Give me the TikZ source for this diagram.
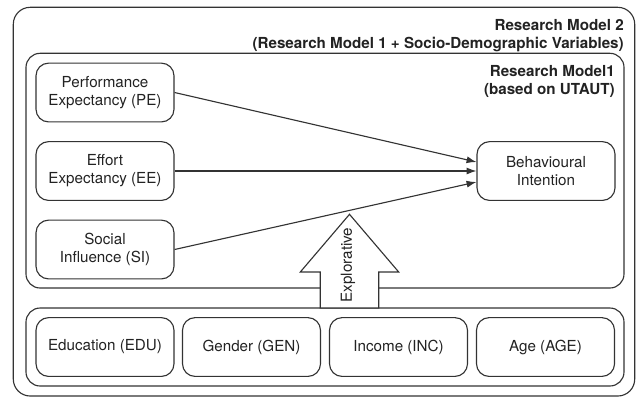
\documentclass[tikz,border=0pt]{standalone}
\usepackage{fontspec}
\setmainfont{TeX Gyre Heros}
\usetikzlibrary{calc,arrows.meta}
\definecolor{lineDark}{RGB}{51,51,51}
\definecolor{textDark}{RGB}{34,34,34}
\tikzset{
  varBox/.style={rounded corners=9pt,draw=lineDark,line width=0.8pt,minimum width=3.45cm,minimum height=1.47cm,align=center,text=textDark,font=\fontsize{10.8}{12.8}\selectfont},
  frameBox/.style={rounded corners=10pt,draw=lineDark,line width=0.8pt},
  titleText/.style={align=right,anchor=north east,inner sep=0pt,text=textDark,font=\bfseries\fontsize{10.8}{12.8}\selectfont},
  linkArrow/.style={draw=lineDark,line width=0.8pt,-{Latex[length=7pt,width=5pt]}}
}

\begin{document}
\begin{tikzpicture}[x=0.025cm,y=-0.025cm]
\useasboundingbox (0,0) rectangle (636,397);
\draw[frameBox,rounded corners=12pt] (13.3,7.3) rectangle (634.7,396);
\draw[frameBox] (26,53.3) rectangle (624,288);
\draw[frameBox] (26,308) rectangle (624,386);
\node[titleText] (titleTwo) at (624,19) {Research Model 2\\(Research Model 1 + Socio-Demographic Variables)};
\node[titleText] (titleOne) at (615,65.5) {Research Model1\\(based on UTAUT)};

\node[varBox] (pe) at (105,92.5) {Performance\\Expectancy (PE)};
\node[varBox] (ee) at (105,171) {Effort\\Expectancy (EE)};
\node[varBox] (si) at (105,249.5) {Social\\Influence (SI)};
\node[varBox] (bi) at (546,171) {Behavioural\\Intention};

\node[varBox] (edu) at (105,347) {Education (EDU)};
\node[varBox] (gen) at (251.5,347) {Gender (GEN)};
\node[varBox] (inc) at (398.5,347) {Income (INC)};
\node[varBox] (age) at (545.5,347) {Age (AGE)};

\draw[lineDark,line width=0.8pt,fill=white] (320.3,308) -- (320.3,272) -- (300.3,272) -- (349.5,214.3) -- (398.7,272) -- (378.7,272) -- (378.7,308) -- cycle;
\node[rotate=90,text=textDark,font=\fontsize{10.8}{12.8}\selectfont] (explore) at (348,265) {Explorative};

\draw[linkArrow] (pe.east) -- ($(bi.west)+(0,-9)$);
\draw[linkArrow] (ee.east) -- (bi.west);
\draw[linkArrow] (si.east) -- ($(bi.west)+(0,11)$);
\end{tikzpicture}
\end{document}
